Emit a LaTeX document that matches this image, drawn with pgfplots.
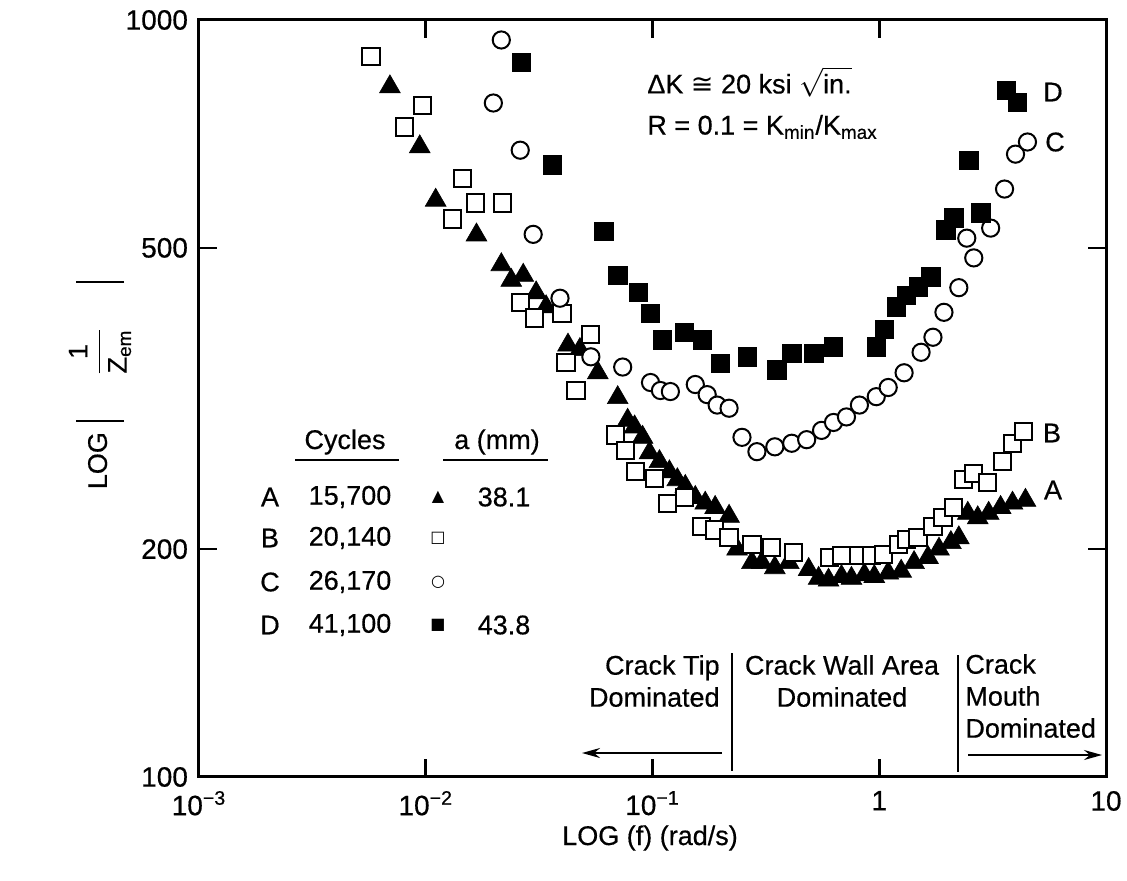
\documentclass[border=0pt]{standalone}
\usepackage{fontspec}
\setmainfont{Liberation Sans}[FakeBold=0.5]
\newfontfamily\dejavu{DejaVu Sans}
\usepackage{pgfplots}
\pgfplotsset{compat=1.18}
\usepackage{pgfplotstable}
\usetikzlibrary{arrows.meta}
\newcommand\fs{\fontsize{13.5}{16}\selectfont}

\pgfplotstableread{
f y
0.00695 816
0.00941 680
0.01106 578
0.01674 520
0.02154 475
0.02383 453
0.02691 460
0.03068 436
0.03394 418
0.04239 372
0.04785 367
0.05738 342
0.07023 317
0.0777 296
0.08338 290
0.09041 281
0.09701 268
0.1073 261
0.1187 253
0.1287 247
0.1395 242
0.1544 234
0.1708 230
0.1889 227
0.2176 221
0.2360 200
0.2745 192
0.3037 192
0.3463 189
0.3990 192
0.4883 188
0.5402 183
0.5975 182
0.6813 184
0.7539 183
0.8597 185
0.9508 184
1.095 186
1.249 187
1.424 192
1.640 195
1.834 200
2.069 204
2.243 207
2.457 223
2.718 220
3.037 223
3.428 227
3.870 230
4.413 232
}\dataA

\pgfplotstableread{
f y
0.00574 894
0.00809 722
0.0097 772
0.01314 546
0.01453 618
0.01657 573
0.02176 573
0.0261 423
0.03006 404
0.0399 410
0.04153 353
0.04595 324
0.05348 384
0.06882 283
0.07613 270
0.08421 253
0.1020 248
0.1164 230
0.1381 234
0.1640 214
0.1871 212
0.2176 207
0.2745 203
0.3360 201
0.4196 198
0.6036 195
0.6813 196
0.8090 196
0.9225 196
1.041 197
1.211 203
1.314 206
1.483 207
1.725 214
1.909 220
2.133 227
2.360 247
2.611 252
3.007 245
3.499 261
3.870 276
4.325 286
}\dataB

\pgfplotstableread{
f y
0.01987 777
0.02154 941
0.0261 673
0.02977 521
0.03909 429
0.05348 359
0.07387 348
0.0980 332
0.1084 324
0.1199 323
0.1544 330
0.1742 320
0.1928 310
0.2176 307
0.2481 281
0.2887 269
0.3463 273
0.4111 276
0.4785 279
0.5567 287
0.6284 294
0.7167 299
0.8175 310
0.9701 318
1.095 327
1.287 342
1.529 364
1.725 381
1.929 411
2.243 443
2.432 515
2.611 485
3.099 531
3.569 598
3.990 665
4.503 690
}\dataC

\pgfplotstableread{
f y
0.02637 880
0.03606 644
0.06097 526
0.07023 460
0.08681 437
0.09799 410
0.1106 378
0.1381 387
0.1657 378
0.1987 352
0.2611 359
0.3534 345
0.4111 363
0.5134 363
0.6284 370
0.9701 370
1.052 390
1.187 418
1.314 433
1.483 444
1.691 458
1.967 528
2.133 548
2.481 653
2.802 556
3.642 808
4.070 779
}\dataD

\begin{document}
\begin{tikzpicture}
\useasboundingbox (0,0) rectangle (563.5pt,440pt);
\begin{axis}[
  at={(99.5pt,51.5pt)}, anchor=south west,
  scale only axis, width=453.5pt, height=378.5pt,
  xmode=log, ymode=log,
  xmin=1e-3, xmax=10, ymin=100, ymax=1000,
  xtick={0.001,0.01,0.1,1,10},
  xticklabels={10\textsuperscript{−3},10\textsuperscript{−2},10\textsuperscript{−1},1,10},
  ytick={100,200,500,1000},
  yticklabels={100,200,500,1000},
  xminorticks=false, yminorticks=false,
  tick align=inside,
  major tick length=9pt,
  every tick/.style={black, line width=1.3pt},
  axis line style={line width=1.5pt},
  tick label style={font=\fontsize{14}{16}\selectfont},
  xticklabel style={yshift=-3.5pt},
  yticklabel style={xshift=-2pt},
  clip=false,
]
\addplot[only marks, mark=triangle*, mark size=6pt, mark options={fill=black, draw=black, line width=0.3pt}] table[x=f,y=y] {\dataA};
\addplot[only marks, mark=square*, mark size=4.3pt, mark options={fill=white, draw=black, line width=1pt}] table[x=f,y=y] {\dataB};
\addplot[only marks, mark=*, mark size=4.3pt, mark options={fill=white, draw=black, line width=1pt}] table[x=f,y=y] {\dataC};
\addplot[only marks, mark=square*, mark size=4.6pt, mark options={fill=black, draw=black, line width=0.3pt}] table[x=f,y=y] {\dataD};
\end{axis}

\begin{scope}[shift={(0pt,440pt)}, x=0.5pt, y=-0.5pt, every node/.style={font=\fs, inner sep=0pt}]
% top annotation
\node[anchor=west] at (647,82) {ΔK {\dejavu ≅} 20 ksi $\sqrt{\mbox{in.}}$};
\node[anchor=west] at (647,127) {R = 0.1 = K\textsubscript{min}/K\textsubscript{max}};
% series labels
\node at (1053,92) {D};
\node at (1055,142) {C};
\node at (1052,433) {B};
\node at (1053,490) {A};
% legend table
\node at (345,442) {Cycles};
\draw[line width=1pt] (295,460) -- (399,460);
\node at (497,442) {a (mm)};
\draw[line width=1pt] (443,460) -- (548,460);
\node at (270,497) {A}; \node at (350,497) {15,700}; \node at (438,497) {\dejavu\fontsize{8}{8}\selectfont ▲}; \node at (504,497) {38.1};
\node at (270,538) {B}; \node at (350,538) {20,140}; \node at (438,538) {\dejavu\fontsize{8}{8}\selectfont □};
\node at (270,582) {C}; \node at (350,582) {26,170}; \node at (438,582) {\dejavu\fontsize{8}{8}\selectfont ○};
\node at (270,625) {D}; \node at (350,625) {41,100}; \node at (438,625) {\dejavu\fontsize{8}{8}\selectfont ■}; \node at (504,625) {43.8};
% regions
\draw[line width=1.4pt] (732,653) -- (732,771);
\draw[line width=1.4pt] (958,655) -- (958,772);
\draw[line width=1pt, -{Stealth[length=9pt,width=5pt]}] (722,753) -- (582,753);
\draw[line width=1pt, -{Stealth[length=9pt,width=5pt]}] (968,755) -- (1102,755);
\node[anchor=east, align=right] at (720,681) {Crack Tip\\Dominated};
\node[align=center] at (842,681) {Crack Wall Area\\Dominated};
\node[anchor=west, align=left] at (965,696) {Crack\\Mouth\\Dominated};
% axis labels
\node at (650,838) {LOG (f) (rad/s)};
\node[rotate=90] at (100,385) {LOG\hspace{5pt}\raisebox{-8.6pt}{\rule{1.2pt}{24pt}}\hspace{22pt}$\displaystyle\frac{\mbox{1}}{\mbox{Z\textsubscript{em}}}$\hspace{22pt}\raisebox{-8.6pt}{\rule{1.2pt}{24pt}}};
\end{scope}
\end{tikzpicture}
\end{document}
